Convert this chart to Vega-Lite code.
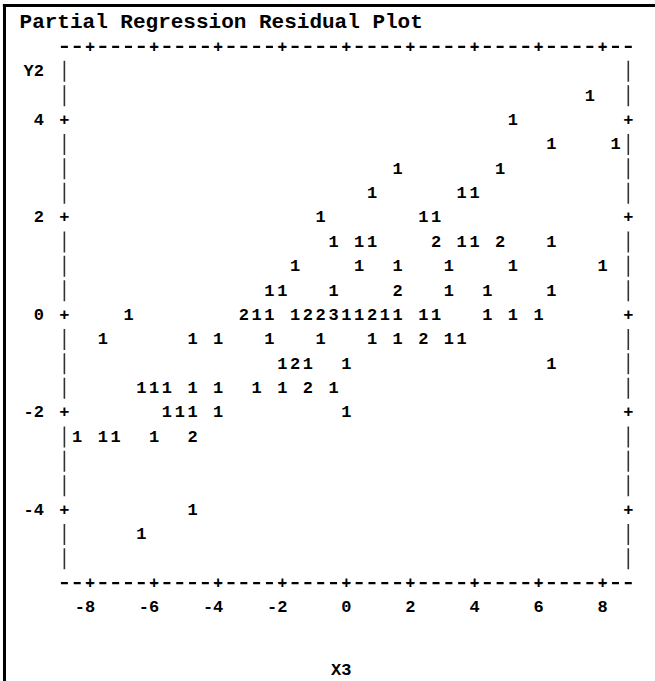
{
  "$schema": "https://vega.github.io/schema/vega-lite/v6.json",
  "width": 655,
  "height": 681,
  "autosize": "none",
  "padding": 0,
  "background": "white",
  "config": {
    "view": {"stroke": null},
    "text": {"font": "Liberation Mono", "fontWeight": "bold", "fontSize": 17, "color": "black", "baseline": "middle"}
  },
  "datasets": {
    "cells": [
      {"x3": 7.6, "y2": 4.5, "n": 1},
      {"x3": 5.2, "y2": 4, "n": 1},
      {"x3": 6.4, "y2": 3.5, "n": 1}, {"x3": 8.4, "y2": 3.5, "n": 1},
      {"x3": 1.6, "y2": 3, "n": 1}, {"x3": 4.8, "y2": 3, "n": 1},
      {"x3": 0.8, "y2": 2.5, "n": 1}, {"x3": 3.6, "y2": 2.5, "n": 1}, {"x3": 4.0, "y2": 2.5, "n": 1},
      {"x3": -0.8, "y2": 2, "n": 1}, {"x3": 2.4, "y2": 2, "n": 1}, {"x3": 2.8, "y2": 2, "n": 1},
      {"x3": -0.4, "y2": 1.5, "n": 1}, {"x3": 0.4, "y2": 1.5, "n": 1}, {"x3": 0.8, "y2": 1.5, "n": 1},
      {"x3": 2.8, "y2": 1.5, "n": 2}, {"x3": 3.6, "y2": 1.5, "n": 1}, {"x3": 4.0, "y2": 1.5, "n": 1},
      {"x3": 4.8, "y2": 1.5, "n": 2}, {"x3": 6.4, "y2": 1.5, "n": 1},
      {"x3": -1.6, "y2": 1, "n": 1}, {"x3": 0.4, "y2": 1, "n": 1}, {"x3": 1.6, "y2": 1, "n": 1},
      {"x3": 3.2, "y2": 1, "n": 1}, {"x3": 5.2, "y2": 1, "n": 1}, {"x3": 8.0, "y2": 1, "n": 1},
      {"x3": -2.4, "y2": 0.5, "n": 1}, {"x3": -2.0, "y2": 0.5, "n": 1}, {"x3": -0.4, "y2": 0.5, "n": 1},
      {"x3": 1.6, "y2": 0.5, "n": 2}, {"x3": 3.2, "y2": 0.5, "n": 1}, {"x3": 4.4, "y2": 0.5, "n": 1},
      {"x3": 6.4, "y2": 0.5, "n": 1},
      {"x3": -6.8, "y2": 0, "n": 1}, {"x3": -3.2, "y2": 0, "n": 2}, {"x3": -2.8, "y2": 0, "n": 1},
      {"x3": -2.4, "y2": 0, "n": 1}, {"x3": -1.6, "y2": 0, "n": 1}, {"x3": -1.2, "y2": 0, "n": 2},
      {"x3": -0.8, "y2": 0, "n": 2}, {"x3": -0.4, "y2": 0, "n": 3}, {"x3": 0.0, "y2": 0, "n": 1},
      {"x3": 0.4, "y2": 0, "n": 1}, {"x3": 0.8, "y2": 0, "n": 2}, {"x3": 1.2, "y2": 0, "n": 1},
      {"x3": 1.6, "y2": 0, "n": 1}, {"x3": 2.4, "y2": 0, "n": 1}, {"x3": 2.8, "y2": 0, "n": 1},
      {"x3": 4.4, "y2": 0, "n": 1}, {"x3": 5.2, "y2": 0, "n": 1}, {"x3": 6.0, "y2": 0, "n": 1},
      {"x3": -7.6, "y2": -0.5, "n": 1}, {"x3": -4.8, "y2": -0.5, "n": 1}, {"x3": -4.0, "y2": -0.5, "n": 1},
      {"x3": -2.4, "y2": -0.5, "n": 1}, {"x3": -0.8, "y2": -0.5, "n": 1}, {"x3": 0.8, "y2": -0.5, "n": 1},
      {"x3": 1.6, "y2": -0.5, "n": 1}, {"x3": 2.4, "y2": -0.5, "n": 2}, {"x3": 3.2, "y2": -0.5, "n": 1},
      {"x3": 3.6, "y2": -0.5, "n": 1},
      {"x3": -2.0, "y2": -1, "n": 1}, {"x3": -1.6, "y2": -1, "n": 2}, {"x3": -1.2, "y2": -1, "n": 1},
      {"x3": 0.0, "y2": -1, "n": 1}, {"x3": 6.4, "y2": -1, "n": 1},
      {"x3": -6.4, "y2": -1.5, "n": 1}, {"x3": -6.0, "y2": -1.5, "n": 1}, {"x3": -5.6, "y2": -1.5, "n": 1},
      {"x3": -4.8, "y2": -1.5, "n": 1}, {"x3": -4.0, "y2": -1.5, "n": 1}, {"x3": -2.8, "y2": -1.5, "n": 1},
      {"x3": -2.0, "y2": -1.5, "n": 1}, {"x3": -1.2, "y2": -1.5, "n": 2}, {"x3": -0.4, "y2": -1.5, "n": 1},
      {"x3": -5.6, "y2": -2, "n": 1}, {"x3": -5.2, "y2": -2, "n": 1}, {"x3": -4.8, "y2": -2, "n": 1},
      {"x3": -4.0, "y2": -2, "n": 1}, {"x3": 0.0, "y2": -2, "n": 1},
      {"x3": -8.4, "y2": -2.5, "n": 1}, {"x3": -7.6, "y2": -2.5, "n": 1}, {"x3": -7.2, "y2": -2.5, "n": 1},
      {"x3": -6.0, "y2": -2.5, "n": 1}, {"x3": -4.8, "y2": -2.5, "n": 2},
      {"x3": -4.8, "y2": -4, "n": 1},
      {"x3": -6.4, "y2": -4.5, "n": 1}
    ],
    "xTicks": [{"v": -8}, {"v": -6}, {"v": -4}, {"v": -2}, {"v": 0}, {"v": 2}, {"v": 4}, {"v": 6}, {"v": 8}],
    "yTicks": [{"v": 4}, {"v": 2}, {"v": 0}, {"v": -2}, {"v": -4}],
    "frameEdges": [{"edge": 5.5}, {"edge": -5.5}],
    "sideRuns": [
      {"top": 5.25, "bottom": 4.25},
      {"top": 3.75, "bottom": 2.25},
      {"top": 1.75, "bottom": 0.25},
      {"top": -0.25, "bottom": -1.75},
      {"top": -2.25, "bottom": -3.75},
      {"top": -4.25, "bottom": -5.25}
    ]
  },
  "layer": [
    {
      "data": {"values": [{}]},
      "mark": {"type": "rule", "stroke": "black", "strokeWidth": 3},
      "encoding": {
        "x": {"datum": -10.67, "type": "quantitative", "scale": {"domain": [-10.8099, 9.6334], "nice": false, "zero": false}, "axis": null},
        "y": {"datum": 6.349, "type": "quantitative", "scale": {"domain": [-7.5077, 6.4615], "nice": false, "zero": false}, "axis": null},
        "y2": {"datum": -7.6}
      }
    },
    {
      "data": {"values": [{}]},
      "mark": {"type": "rule", "stroke": "black", "strokeWidth": 3},
      "encoding": {
        "x": {"datum": -10.72, "type": "quantitative"},
        "x2": {"datum": 9.7},
        "y": {"datum": 6.349, "type": "quantitative"}
      }
    },
    {
      "data": {"name": "frameEdges"},
      "mark": {"type": "rule", "stroke": "black", "strokeWidth": 2.2, "strokeDash": [7, 5.816], "strokeDashOffset": 9.908},
      "encoding": {
        "x": {"datum": -9.0, "type": "quantitative"},
        "x2": {"datum": 9.0},
        "y": {"field": "edge", "type": "quantitative"}
      }
    },
    {
      "data": {"name": "sideRuns"},
      "mark": {"type": "rule", "stroke": "#333333", "strokeWidth": 1.6, "strokeDash": [21, 3.375], "strokeDashOffset": 22.685},
      "encoding": {
        "x": {"datum": -8.8, "type": "quantitative"},
        "y": {"field": "top", "type": "quantitative"},
        "y2": {"field": "bottom"}
      }
    },
    {
      "data": {"name": "sideRuns"},
      "mark": {"type": "rule", "stroke": "#333333", "strokeWidth": 1.6, "strokeDash": [21, 3.375], "strokeDashOffset": 22.685},
      "encoding": {
        "x": {"datum": 8.8, "type": "quantitative"},
        "y": {"field": "top", "type": "quantitative"},
        "y2": {"field": "bottom"}
      }
    },
    {
      "data": {"name": "xTicks"},
      "mark": {"type": "text", "text": "+", "align": "center"},
      "encoding": {
        "x": {"field": "v", "type": "quantitative"},
        "y": {"datum": 5.5, "type": "quantitative"}
      }
    },
    {
      "data": {"name": "xTicks"},
      "mark": {"type": "text", "text": "+", "align": "center"},
      "encoding": {
        "x": {"field": "v", "type": "quantitative"},
        "y": {"datum": -5.5, "type": "quantitative"}
      }
    },
    {
      "data": {"name": "yTicks"},
      "mark": {"type": "text", "text": "+", "align": "center"},
      "encoding": {
        "x": {"datum": -8.8, "type": "quantitative"},
        "y": {"field": "v", "type": "quantitative"}
      }
    },
    {
      "data": {"name": "yTicks"},
      "mark": {"type": "text", "text": "+", "align": "center"},
      "encoding": {
        "x": {"datum": 8.8, "type": "quantitative"},
        "y": {"field": "v", "type": "quantitative"}
      }
    },
    {
      "data": {"name": "xTicks"},
      "mark": {"type": "text", "align": "right", "dx": 5.1},
      "encoding": {
        "x": {"field": "v", "type": "quantitative"},
        "y": {"datum": -6.0, "type": "quantitative"},
        "text": {"field": "v", "type": "nominal"}
      }
    },
    {
      "data": {"name": "yTicks"},
      "mark": {"type": "text", "align": "right", "dx": 5.1},
      "encoding": {
        "x": {"datum": -9.6, "type": "quantitative"},
        "y": {"field": "v", "type": "quantitative"},
        "text": {"field": "v", "type": "nominal"}
      }
    },
    {
      "data": {"values": [{}]},
      "mark": {"type": "text", "align": "right", "dx": 5.1, "text": "Y2"},
      "encoding": {
        "x": {"datum": -9.6, "type": "quantitative"},
        "y": {"datum": 5.0, "type": "quantitative"}
      }
    },
    {
      "data": {"values": [{}]},
      "mark": {"type": "text", "align": "right", "dx": 5.1, "text": "X3"},
      "encoding": {
        "x": {"datum": 0.0, "type": "quantitative"},
        "y": {"datum": -7.28, "type": "quantitative"}
      }
    },
    {
      "data": {"values": [{}]},
      "mark": {"type": "text", "align": "left", "fontSize": 21, "text": "Partial Regression Residual Plot"},
      "encoding": {
        "x": {"datum": -10.2, "type": "quantitative"},
        "y": {"datum": 6.0, "type": "quantitative"}
      }
    },
    {
      "data": {"name": "cells"},
      "mark": {"type": "text", "align": "center"},
      "encoding": {
        "x": {"field": "x3", "type": "quantitative"},
        "y": {"field": "y2", "type": "quantitative"},
        "text": {"field": "n", "type": "nominal"}
      }
    }
  ]
}
